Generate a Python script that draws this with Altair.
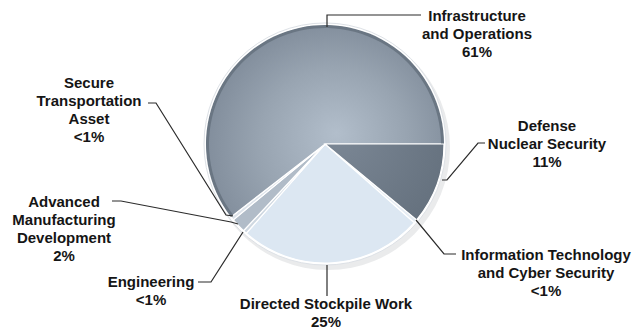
import math
import altair as alt
import pandas as pd

# ---- data ----
categories = ["Defense Nuclear Security", "Information Technology and Cyber Security",
              "Directed Stockpile Work", "Engineering", "Advanced Manufacturing Development",
              "Secure Transportation Asset", "Infrastructure and Operations"]
shares = [11, 0.5, 25, 0.5, 2, 0.5, 60.5]
pct_labels = ["11%", "<1%", "25%", "<1%", "2%", "<1%", "61%"]
label_lines = [
    ["Defense", "Nuclear Security"],
    ["Information Technology", "and Cyber Security"],
    ["Directed Stockpile Work"],
    ["Engineering"],
    ["Advanced", "Manufacturing", "Development"],
    ["Secure", "Transportation", "Asset"],
    ["Infrastructure", "and Operations"],
]
slice_colors = ["#737f8d", "#e6edf4", "#dce7f2", "#cfd8e1", "#b1bcc8", "#dde3ea", "#8e9aa7"]

# ---- layout (page pixel coordinates) ----
CX, CY, R = 325, 144, 119
label_pos = [(547, 126), (546, 255), (326, 304), (151, 282), (64, 202), (89, 83), (477, 16)]
LINE_H = 18
leaders = [
    [(442, 180), (447, 180), (478, 143), (485, 143)],
    [(416, 220), (444, 254), (456, 254)],
    [(327, 265), (327, 296)],
    [(198, 282), (211, 282), (243, 232)],
    [(112, 201), (121, 201), (231, 222), (238, 224)],
    [(148, 103), (156, 103), (226, 215), (233, 216)],
    [(327, 27), (327, 15), (421, 15)],
]

W, H = 626, 322
xs = alt.Scale(domain=[8, 8 + W], nice=False, zero=False)
ys = alt.Scale(domain=[8 + H, 8], nice=False, zero=False)

# slices table
start = []
acc = 0
for s in shares:
    start.append(acc)
    acc += s
slices = pd.DataFrame({"cat": categories, "start": start,
                       "end": [a + b for a, b in zip(start, shares)], "idx": list(range(len(shares)))})

theta_scale = alt.Scale(domain=[0, 100], range=[math.pi / 2, math.pi / 2 + 2 * math.pi])
pos = dict(x=alt.value(CX - 8), y=alt.value(CY - 8))

one = pd.DataFrame({"a": [0], "b": [100]})
shadow = alt.Chart(one).mark_arc(radius=R + 3, color="#8a8f96", opacity=0.18).encode(
    theta=alt.Theta("a:Q", scale=theta_scale), theta2="b:Q",
    x=alt.value(CX - 8 + 3), y=alt.value(CY - 8 + 4))
ring = alt.Chart(one).mark_arc(radius=R + 2, color="#ffffff", stroke="#dde1e6", strokeWidth=1).encode(
    theta=alt.Theta("a:Q", scale=theta_scale), theta2="b:Q", **pos)

pie = alt.Chart(slices).mark_arc(radius=R, stroke="white", strokeWidth=1.2).encode(
    theta=alt.Theta("start:Q", scale=theta_scale), theta2="end:Q",
    color=alt.Color("cat:N", scale=alt.Scale(domain=categories, range=slice_colors), legend=None),
    **pos)

infra_grad = {"gradient": "radial", "x1": 0.55, "y1": 0.55, "r1": 0, "x2": 0.52, "y2": 0.62, "r2": 0.62,
              "stops": [{"offset": 0, "color": "#b2becb"}, {"offset": 0.5, "color": "#98a4b1"},
                        {"offset": 1, "color": "#788493"}]}
infra = alt.Chart(slices).transform_filter(alt.datum.idx == 6).mark_arc(
    radius=R, stroke="white", strokeWidth=1.2, color=infra_grad).encode(
    theta=alt.Theta("start:Q", scale=theta_scale), theta2="end:Q", **pos)
rim = alt.Chart(slices).transform_filter(alt.datum.idx == 6).mark_arc(
    radius=R, radius2=R - 3, color="#6a7683").encode(
    theta=alt.Theta("start:Q", scale=theta_scale), theta2="end:Q", **pos)

def_grad = {"gradient": "radial", "x1": 0.1, "y1": 0.1, "r1": 0, "x2": 0.1, "y2": 0.1, "r2": 1.0,
            "stops": [{"offset": 0, "color": "#7b8795"}, {"offset": 1, "color": "#65717e"}]}
defense = alt.Chart(slices).transform_filter(alt.datum.idx == 0).mark_arc(
    radius=R, stroke="white", strokeWidth=1.2, color=def_grad).encode(
    theta=alt.Theta("start:Q", scale=theta_scale), theta2="end:Q", **pos)

# leader lines
lrows = []
for i, pts in enumerate(leaders):
    for j, (px, py) in enumerate(pts):
        lrows.append({"k": i, "o": j, "px": px, "py": py})
lines = alt.Chart(pd.DataFrame(lrows)).mark_line(color="#2b2b2b", strokeWidth=1.2).encode(
    x=alt.X("px:Q", scale=xs, axis=None), y=alt.Y("py:Q", scale=ys, axis=None),
    detail="k:N", order="o:Q")

# label text
trows = []
for i, lines_i in enumerate(label_lines):
    lx, ly = label_pos[i]
    allines = lines_i + [pct_labels[i]]
    for j, t in enumerate(allines):
        trows.append({"t": t, "tx": lx, "ty": ly + j * LINE_H})
text = alt.Chart(pd.DataFrame(trows)).mark_text(
    font="Liberation Sans", fontWeight="bold", fontSize=15, color="#151515",
    align="center", baseline="middle").encode(
    x=alt.X("tx:Q", scale=xs, axis=None), y=alt.Y("ty:Q", scale=ys, axis=None), text="t:N")

chart = alt.layer(shadow, ring, pie, infra, rim, defense, lines, text).properties(
    width=W, height=H, padding=0, autosize="none"
).configure_view(stroke=None)

chart.save("out.html", embed_options={"renderer": "svg", "actions": False})
